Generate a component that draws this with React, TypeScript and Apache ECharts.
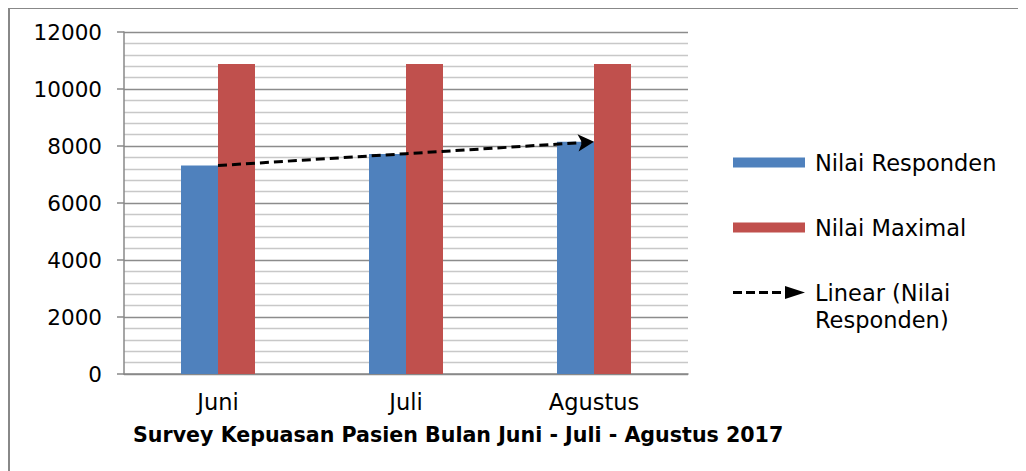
import React, { useEffect, useRef } from "react";
import * as echarts from "echarts";

const categories = ["Juni", "Juli", "Agustus"];
const nilaiResponden = [7320, 7720, 8150];
const nilaiMaximal = [10880, 10880, 10880];
const yTicks = [0, 2000, 4000, 6000, 8000, 10000, 12000];
const titleText = "Survey Kepuasan Pasien Bulan Juni - Juli - Agustus 2017";
const seriesNames = ["Nilai Responden", "Nilai Maximal", "Linear (Nilai Responden)"];

// Excel-style linear trendline (least squares) of Nilai Responden
function linearTrend(vals: number[]): number[] {
  const n = vals.length;
  const xs = vals.map((_, i) => i);
  const mx = xs.reduce((a, b) => a + b, 0) / n;
  const my = vals.reduce((a, b) => a + b, 0) / n;
  let num = 0;
  let den = 0;
  xs.forEach((x, i) => {
    num += (x - mx) * (vals[i] - my);
    den += (x - mx) * (x - mx);
  });
  const slope = num / den;
  return xs.map((x) => my + slope * (x - mx));
}

const FONT = "DejaVu Sans";

export default function App() {
  const ref = useRef<HTMLDivElement>(null);
  useEffect(() => {
    if (!ref.current) return;
    const chart = echarts.init(ref.current, undefined, { renderer: "svg" });
    const trend = linearTrend(nilaiResponden);
    const trendData: any[] = trend.map((v, i) =>
      i === trend.length - 1
        ? { value: v, symbol: "arrow", symbolSize: [13, 16], symbolRotate: -86.4 }
        : { value: v }
    );
    const legendText = { fontFamily: FONT, fontSize: 22.5, color: "#000", lineHeight: 27, padding: [0, 0, 0, 5] };
    chart.setOption({
      animation: false,
      backgroundColor: "#ffffff",
      textStyle: { fontFamily: FONT },
      title: {
        text: titleText,
        left: 125,
        top: 416,
        padding: 0,
        textStyle: { fontFamily: FONT, fontWeight: "bold", fontSize: 20.6, color: "#000" },
      },
      graphic: [
        { type: "line", shape: { x1: 1, y1: 0, x2: 1, y2: 463 }, style: { stroke: "#888", lineWidth: 2 } },
        { type: "line", shape: { x1: 0, y1: 0, x2: 1018, y2: 0 }, style: { stroke: "#888", lineWidth: 2 } },
      ],
      legend: [
        {
          left: 725,
          top: 141,
          padding: 0,
          itemWidth: 72,
          itemHeight: 10,
          icon: "rect",
          textStyle: legendText,
          data: [seriesNames[0]],
        },
        {
          left: 725,
          top: 206,
          padding: 0,
          itemWidth: 72,
          itemHeight: 10,
          icon: "rect",
          textStyle: legendText,
          data: [seriesNames[1]],
        },
        {
          left: 725,
          top: 244,
          padding: 0,
          itemWidth: 72,
          itemHeight: 13,
          formatter: () => "\nLinear (Nilai\nResponden)",
          textStyle: legendText,
          data: [
            {
              name: seriesNames[2],
              icon: "path://M0,5h9v3h-9z M13,5h9v3h-9z M26,5h9v3h-9z M39,5h9v3h-9z M52,0L72,6.5L52,13z",
              itemStyle: { color: "#000", borderWidth: 0 },
            },
          ],
        },
      ],
      grid: { left: 116, top: 24, right: 338, bottom: 97, containLabel: false },
      xAxis: {
        type: "category",
        data: categories,
        axisLine: { show: true, lineStyle: { color: "#888", width: 1.5 } },
        axisTick: { show: false },
        axisLabel: { fontFamily: FONT, fontSize: 22.5, color: "#000", margin: 16 },
      },
      yAxis: {
        type: "value",
        min: yTicks[0],
        max: yTicks[yTicks.length - 1],
        interval: 2000,
        axisLine: { show: true, lineStyle: { color: "#888", width: 1.5 } },
        axisTick: { show: true, length: 7, lineStyle: { color: "#888", width: 1.5 } },
        axisLabel: {
          fontFamily: FONT,
          fontSize: 21.5,
          color: "#000",
          margin: 22,
          formatter: (v: number) => String(v),
        },
        splitLine: { show: true, lineStyle: { color: "#8c8c8c", width: 1.3 } },
        minorTick: { show: false, splitNumber: 5 },
        minorSplitLine: { show: true, lineStyle: { color: "#c8c8c8", width: 1.3 } },
      },
      series: [
        {
          name: seriesNames[0],
          type: "bar",
          data: nilaiResponden,
          barWidth: 37,
          barGap: "0%",
          itemStyle: { color: "#4F81BD" },
          z: 2,
        },
        {
          name: seriesNames[1],
          type: "bar",
          data: nilaiMaximal,
          barWidth: 37,
          barGap: "0%",
          itemStyle: { color: "#C0504D" },
          z: 2,
        },
        {
          name: seriesNames[2],
          type: "line",
          data: trendData,
          symbol: "none",
          showSymbol: true,
          itemStyle: { color: "#000" },
          lineStyle: { color: "#000", width: 3, type: [9, 5] },
          z: 5,
        },
      ],
    });
    return () => chart.dispose();
  }, []);
  return <div ref={ref} style={{ width: 1018, height: 463 }} />;
}
